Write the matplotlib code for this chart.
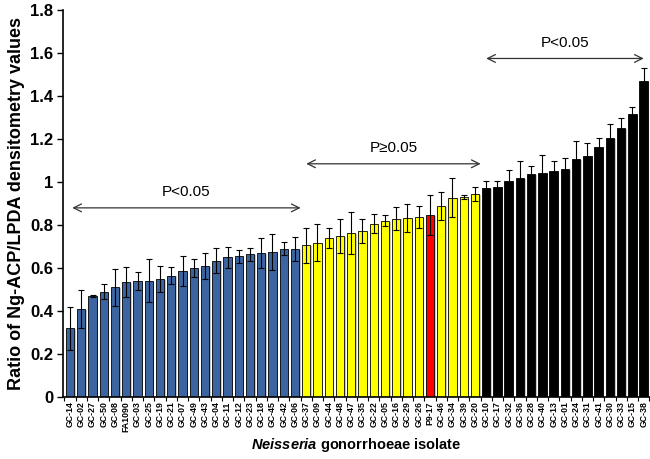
import matplotlib
matplotlib.use("Agg")
from matplotlib import pyplot as plt
import numpy as np

plt.rcParams['font.family'] = ['Liberation Sans', 'DejaVu Sans']
plt.rcParams['mathtext.fontset'] = 'custom'
plt.rcParams['mathtext.it'] = 'Liberation Sans:italic:bold'
plt.rcParams['mathtext.rm'] = 'Liberation Sans:bold'

isolates = ['GC-14', 'GC-02', 'GC-27', 'GC-50', 'GC-08', 'FA1090', 'GC-03', 'GC-25',
            'GC-19', 'GC-21', 'GC-07', 'GC-49', 'GC-43', 'GC-04', 'GC-11', 'GC-12',
            'GC-23', 'GC-18', 'GC-45', 'GC-42', 'GC-06',
            'GC-37', 'GC-09', 'GC-44', 'GC-48', 'GC-47', 'GC-35', 'GC-22', 'GC-05',
            'GC-16', 'GC-29', 'GC-26', 'P9-17', 'GC-46', 'GC-34', 'GC-39', 'GC-20',
            'GC-10', 'GC-17', 'GC-32', 'GC-36', 'GC-28', 'GC-40', 'GC-13', 'GC-01',
            'GC-24', 'GC-31', 'GC-41', 'GC-30', 'GC-33', 'GC-15', 'GC-38']

ratio = [0.32, 0.41, 0.47, 0.49, 0.51, 0.535, 0.54, 0.54, 0.55, 0.565, 0.585, 0.60,
         0.61, 0.635, 0.65, 0.655, 0.665, 0.67, 0.675, 0.69, 0.69,
         0.705, 0.718, 0.739, 0.75, 0.762, 0.772, 0.806, 0.82, 0.83, 0.832, 0.838,
         0.846, 0.89, 0.928, 0.931, 0.944,
         0.973, 0.976, 1.005, 1.018, 1.036, 1.043, 1.053, 1.061, 1.108, 1.123,
         1.163, 1.203, 1.251, 1.316, 1.468]

err = [0.10, 0.09, 0.005, 0.035, 0.085, 0.07, 0.04, 0.10, 0.06, 0.04, 0.07, 0.04,
       0.06, 0.06, 0.05, 0.03, 0.03, 0.07, 0.085, 0.03, 0.055,
       0.082, 0.085, 0.047, 0.08, 0.098, 0.054, 0.044, 0.026, 0.053, 0.064, 0.052,
       0.094, 0.066, 0.092, 0.008, 0.032,
       0.031, 0.028, 0.053, 0.082, 0.041, 0.083, 0.044, 0.049, 0.082, 0.057,
       0.043, 0.067, 0.049, 0.034, 0.063]

groups = ['blue'] * 21 + ['yellow'] * 11 + ['red'] + ['yellow'] * 4 + ['black'] * 15
group_colors = {'blue': '#3b64a0', 'yellow': '#ffff00', 'red': '#ff0000', 'black': '#000000'}

x = np.arange(len(isolates))
colors = [group_colors[g] for g in groups]

fig = plt.figure(figsize=(6.5, 4.59), dpi=100)
ax = fig.add_axes([0.097, 0.135, 0.903, 0.843])

# soft grey shadow behind the bars
ax.bar(x + 0.12, np.array(ratio) - 0.004, width=0.75, color='#c8c8c8', zorder=1)
ax.bar(x, ratio, width=0.75, color=colors, edgecolor='black', linewidth=0.6, zorder=2)
ax.errorbar(x, ratio, yerr=err, fmt='none', ecolor='black', elinewidth=0.8,
            capsize=2.5, capthick=0.8, zorder=3)

ax.set_xlim(-0.62, 51.56)
ax.set_ylim(0, 1.8)
ax.set_yticks([0, 0.2, 0.4, 0.6, 0.8, 1, 1.2, 1.4, 1.6, 1.8])
ax.set_yticklabels(['0', '0.2', '0.4', '0.6', '0.8', '1', '1.2', '1.4', '1.6', '1.8'],
                   fontsize=12, fontweight='bold')
ax.set_xticks(x)
ax.set_xticklabels(isolates, rotation=90, fontsize=6.3, fontweight='bold')
ax.set_xticks(np.arange(len(isolates) + 1) - 0.5, minor=True)
ax.tick_params(axis='x', which='major', length=0, pad=3)
ax.tick_params(axis='x', which='minor', length=3, width=0.8, direction='out')
ax.tick_params(axis='y', length=4, width=1, direction='out', pad=3)

for side in ['top', 'right']:
    ax.spines[side].set_visible(False)
ax.spines['left'].set_linewidth(1.2)
ax.spines['bottom'].set_linewidth(1.2)

ax.set_ylabel('Ratio of Ng-ACP/LPDA densitometry values', fontsize=13, fontweight='bold',
              labelpad=4)
ax.set_xlabel(r'$\it{Neisseria}$ gonorrhoeae isolate', fontsize=10.5, fontweight='bold',
              labelpad=3)

# significance brackets
arrows = [(0.2, 20.5, 0.88, 'P<0.05', 0.92),
          (21.0, 36.5, 1.085, 'P\u22650.05', 1.125),
          (37.0, 51.0, 1.575, 'P<0.05', 1.615)]
for x0, x1, yv, label, ty in arrows:
    ax.annotate('', xy=(x0, yv), xytext=(x1, yv),
                arrowprops=dict(arrowstyle='<->', color='#333333', lw=0.9,
                                shrinkA=0, shrinkB=0, mutation_scale=14))
    ax.text((x0 + x1) / 2, ty, label, ha='center', va='bottom', fontsize=11)

fig.savefig('out.png', dpi=100)
